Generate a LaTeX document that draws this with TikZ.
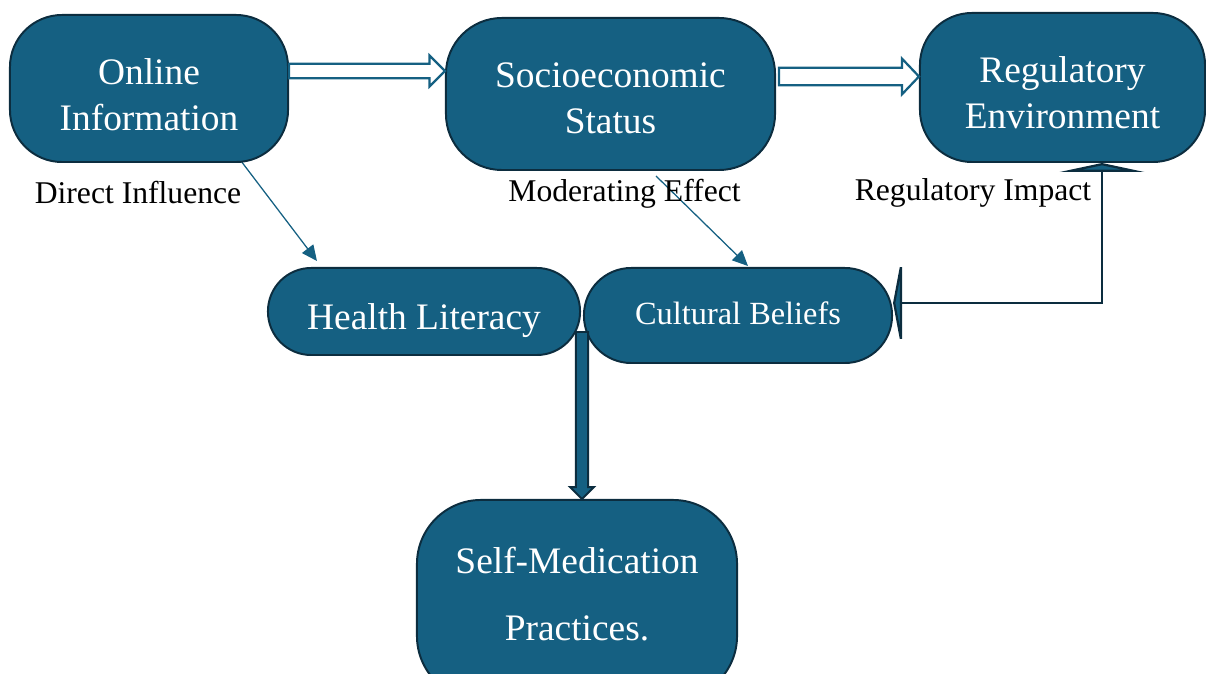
\documentclass[tikz,border=0pt]{standalone}
\usepackage{fontspec}
\setmainfont{Liberation Serif}
\usetikzlibrary{arrows.meta,calc}
\definecolor{boxfill}{HTML}{156082}
\definecolor{boxline}{HTML}{0C2D3F}
\pgfdeclarelayer{bg}
\pgfsetlayers{bg,main}

% horizontal block arrow: style, start, end, shaft half-width, head half-width, head length
\newcommand{\hblock}[6]{%
  \draw[#1] let \p1=(#2), \p2=(#3) in
    ({\x1},{\y1+#4}) -- ({\x2-#6},{\y1+#4}) -- ({\x2-#6},{\y1+#5}) -- ({\x2},{\y1})
    -- ({\x2-#6},{\y1-#5}) -- ({\x2-#6},{\y1-#4}) -- ({\x1},{\y1-#4}) -- cycle;}
% vertical (downward) block arrow, same arguments
\newcommand{\vblock}[6]{%
  \draw[#1] let \p1=(#2), \p2=(#3) in
    ({\x1-#4},{\y1}) -- ({\x1-#4},{\y2+#6}) -- ({\x1-#5},{\y2+#6}) -- ({\x1},{\y2})
    -- ({\x1+#5},{\y2+#6}) -- ({\x1+#4},{\y2+#6}) -- ({\x1+#4},{\y1}) -- cycle;}

\begin{document}
\begin{tikzpicture}[x=0.025cm,y=-0.025cm,
  box/.style={draw=boxline, line width=1.4pt, fill=boxfill, inner sep=0pt},
  boxtext/.style={text=white, align=center, inner sep=0pt,
    font=\fontsize{26.6}{32.5}\selectfont},
  lbl/.style={font=\fontsize{22.5}{27}\selectfont, inner sep=0pt},
  thinarrow/.style={draw=boxfill, line width=0.9pt, -{Triangle[length=11pt,width=10pt]}},
  hollow/.style={draw=boxfill, line width=1.6pt, fill=white, line join=miter},
  solidblock/.style={draw=boxline, line width=1.4pt, fill=boxfill, line join=miter},
  elbow/.style={draw=boxline, line width=2pt,
    {Triangle[length=6.4pt,width=60pt,fill=boxfill]}-{Triangle[length=6.4pt,width=68pt,fill=boxfill]}}
]
\useasboundingbox (0,0) rectangle (1206,674);

% concept boxes
\node[box, minimum width=6.95cm, minimum height=3.675cm, rounded corners=1.3cm]
  (online) at (149,88.5) {};
\node[box, minimum width=8.225cm, minimum height=3.8cm, rounded corners=1.4cm]
  (socio) at (610.5,94) {};
\node[box, minimum width=7.125cm, minimum height=3.725cm, rounded corners=1.3cm]
  (reg) at (1062.5,87.5) {};
\node[box, minimum width=7.8cm, minimum height=2.175cm, rounded corners=1.08cm]
  (health) at (424,311.5) {};
\node[box, minimum width=7.7cm, minimum height=2.375cm, rounded corners=1.18cm]
  (cultural) at (738,315.5) {};
\node[box, minimum width=8cm, minimum height=5cm, rounded corners=1.6cm]
  (selfmed) at (577,600) {};

% box texts
\node[boxtext] (onlinetext) at ($(online)+(0,6)$) {Online\\Information};
\node[boxtext] (sociotext) at ($(socio)+(0,4.5)$) {Socioeconomic\\Status};
\node[boxtext] (regtext) at ($(reg)+(0,5)$) {Regulatory\\Environment};
\node[boxtext] (healthtext) at ($(health)+(0,9)$) {Health Literacy};
\node[boxtext, font=\fontsize{23}{28}\selectfont] (culturaltext) at ($(cultural)+(0,-2)$) {Cultural Beliefs};
\node[boxtext, font=\fontsize{26.6}{47.5}\selectfont] (selfmedtext) at ($(selfmed)+(0,-6)$)
  {Self-Medication\\Practices.};

% edge labels
\node[lbl] (labdirect) at (138,193) {Direct Influence};
\node[lbl] (labmod) at (624.5,194) {Moderating Effect};
\node[lbl] (labreg) at (973,193) {Regulatory Impact};

% helper coordinates
\coordinate (row1) at (0,71);
\coordinate (row2) at (0,76.5);
\coordinate (split) at ($(health.east)!0.5!(cultural.west)$);
\coordinate (regx) at (1102,0);
\coordinate (impacty) at (0,303);

% thin influence arrows, behind the boxes
\begin{pgfonlayer}{bg}
\draw[thinarrow] ($(online.south east)+(-48,-2)$) -- ($(health.north west)+(50,-6)$);
\draw[thinarrow] ($(socio.south)+(45.5,5)$) -- ($(cultural.north)+(10,-1)$);
\end{pgfonlayer}

% hollow block arrows along the top row
\hblock{hollow}{online.east |- row1}{socio.west |- row1}{5.2pt}{11pt}{11pt}
\hblock{hollow}{$(socio.east |- row2)+(3,0)$}{reg.west |- row2}{6.2pt}{12.6pt}{12pt}

% solid block arrow down to the outcome
\vblock{solidblock}{$(split)+(0,18.5)$}{split |- selfmed.north}{4.3pt}{8.5pt}{8.5pt}

% regulatory impact connector
\draw[elbow] (reg.south -| regx) |- (cultural.east |- impacty);
\end{tikzpicture}
\end{document}
